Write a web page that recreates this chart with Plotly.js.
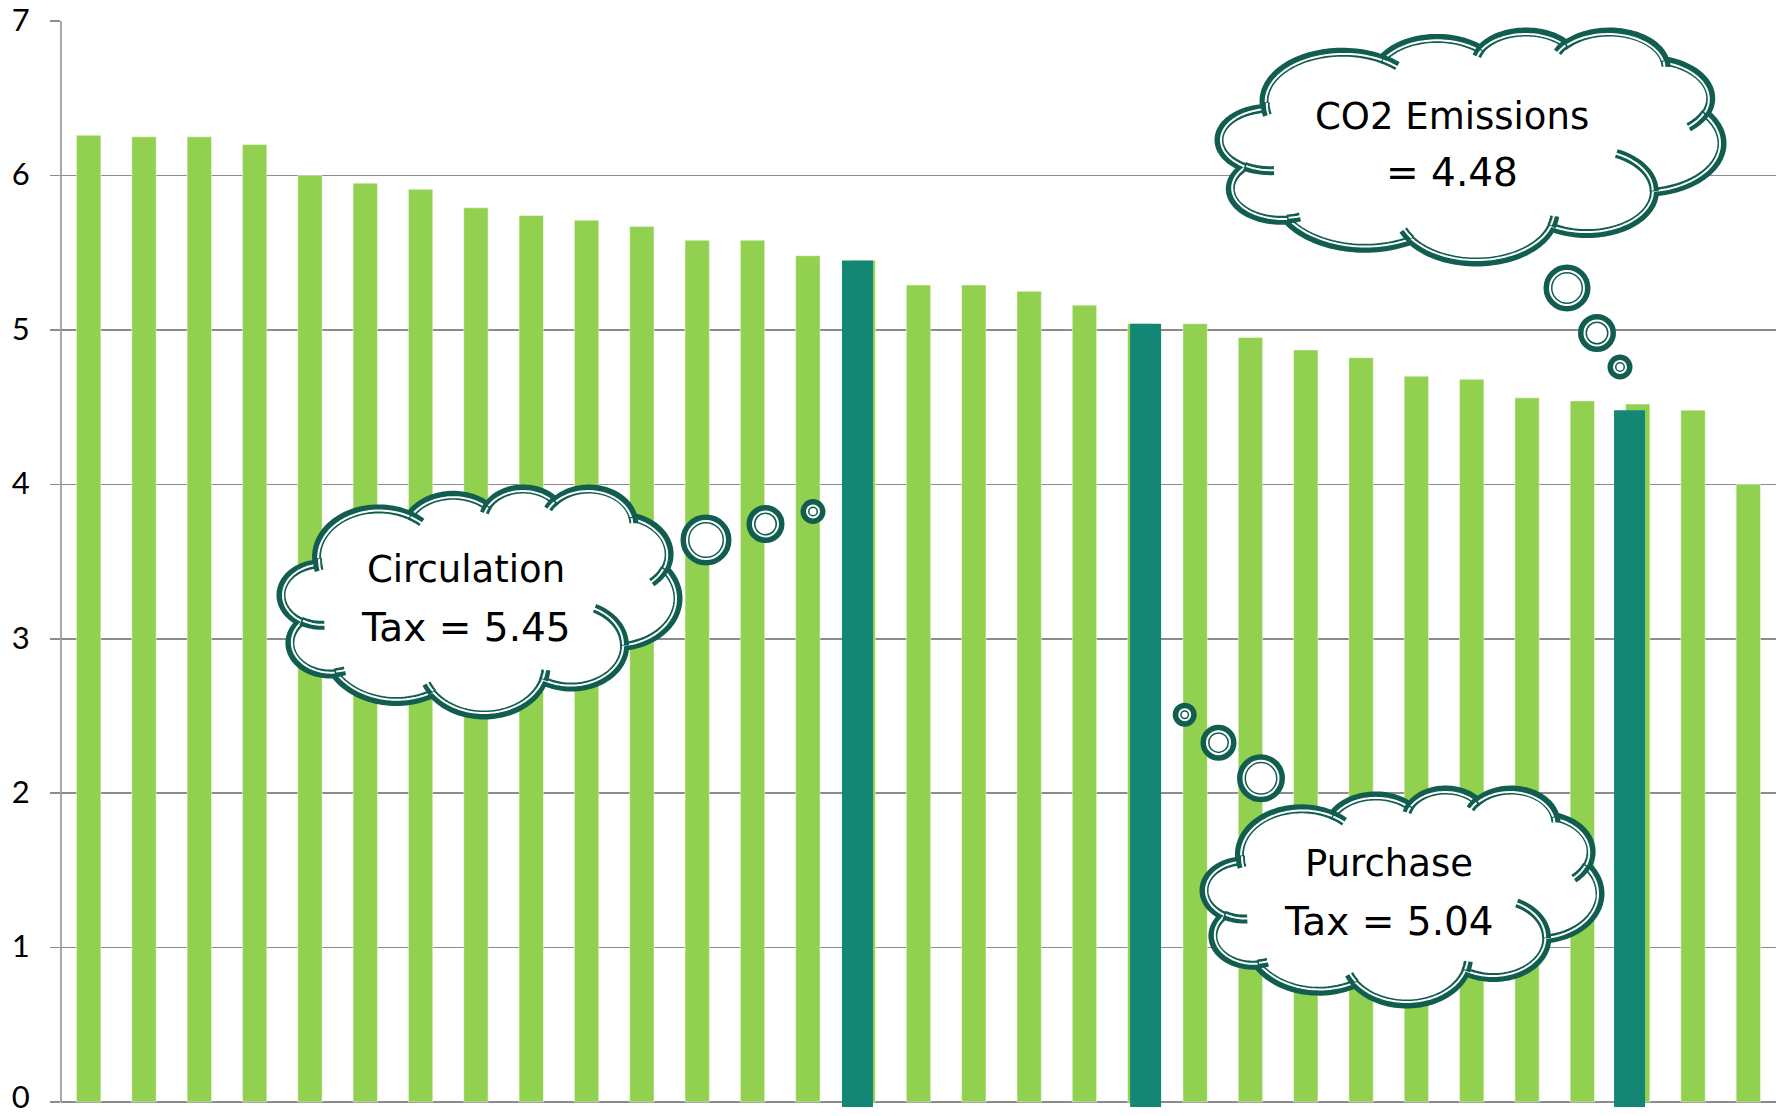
<!DOCTYPE html>
<html>
<head>
<meta charset="utf-8">
<script src="https://cdn.plot.ly/plotly-3.0.1.min.js"></script>
<style>
  html, body { margin: 0; padding: 0; background: #ffffff; }
  #chart { width: 1785px; height: 1116px; }
</style>
</head>
<body>
<div id="chart"></div>
<script>
// ---- data -------------------------------------------------------------
// Ranked scores, highest first
const score = [6.26, 6.25, 6.25, 6.20, 6.00, 5.95, 5.91, 5.79, 5.74, 5.71,
               5.67, 5.58, 5.58, 5.48, 5.45, 5.29, 5.29, 5.25, 5.16, 5.04,
               5.04, 4.95, 4.87, 4.82, 4.70, 4.68, 4.56, 4.54, 4.52, 4.48,
               4.00];
const rank = score.map((_, i) => i + 1);

// Highlighted positions and their stated values
const highlightRank  = [15, 20, 29];
const highlightValue = [5.45, 5.04, 4.48];
const calloutTitle   = ['Circulation', 'Purchase', 'CO2 Emissions'];
const calloutPrefix  = ['Tax = ', 'Tax = ', '= '];

// Value axis ticks
const yTicks = [0, 1, 2, 3, 4, 5, 6, 7];

// ---- styling ------------------------------------------------------------
const GREEN = '#92D050';
const TEAL = '#148674';
const INK = '#115E50';
const GRID = '#8c8c8c';
const TICK_FONT = 'Lato, "Open Sans", sans-serif';
const NOTE_FONT = '"DejaVu Sans", Lato, sans-serif';
const NOTE_SIZE = [37, 39];   // title line, value line

const W = 1785, H = 1116;
const M = { l: 61, r: 9, t: 21, b: 9 };
const PW = W - M.l - M.r, PH = H - M.t - M.b;
const Y_MIN = -0.032, Y_MAX = 7;

// page pixel -> paper fraction
const px = x => (x - M.l) / PW;
const py = y => (H - M.b - y) / PH;

// highlight bars sit slightly off-centre and run a few px below zero
const hlOffset = [-0.383, -0.175, -0.427];
const hlWidth = 0.56;

// outline: thick dark stroke with a thin white line set slightly inside it
const STROKE = 9, INNER = 2, INSET = 2;

// ---- cloud outline (preset cloud geometry, 43200 unit box) ------------
const CLOUD_START = [3900, 14370];
const CLOUD_ARCS = [
  [6753, 9190, -11429249, 7426832],
  [5333, 7267, -8646143, 5396714],
  [4365, 5945, -8748475, 5983381],
  [4857, 6595, -7859164, 7034504],
  [5333, 7273, -4722533, 6541615],
  [6775, 9220, -2776035, 7816140],
  [5785, 7867, 37501, 6842000],
  [6752, 9215, 1347096, 6910353],
  [7720, 10543, 3974558, 4542661],
  [4360, 5918, -16496525, 8804134],
  [4345, 5945, -14809710, 9151131]
];
const CLOUD_CREASES = [
  [4693, 26177, 4345, 5945, 5204520, 1585770],
  [6928, 34899, 4360, 5918, 4416628, 686848],
  [16478, 39090, 6752, 9215, 8257449, 844866],
  [28827, 34751, 6752, 9215, 387196, 959901],
  [34129, 22954, 5785, 7867, -4217541, 4255042],
  [41798, 15354, 5333, 7273, 1819082, 1665090],
  [38324, 5426, 4857, 6595, -824660, 891534],
  [29078, 3952, 4857, 6595, -8950887, 1091722],
  [22141, 4720, 4365, 5945, -9809656, 1061181],
  [14000, 5192, 6753, 9190, -4002417, 739161],
  [4127, 15789, 6753, 9190, 9722161, 1239189]
];

function arcTo(p, wR, hR, st, sw, out) {
  const a0 = st / 60000 * Math.PI / 180;
  const da = sw / 60000 * Math.PI / 180;
  const rAt = a => wR * hR / Math.hypot(hR * Math.cos(a), wR * Math.sin(a));
  const cx = p[0] - rAt(a0) * Math.cos(a0);
  const cy = p[1] - rAt(a0) * Math.sin(a0);
  const n = Math.max(6, Math.ceil(Math.abs(da) / (Math.PI / 90)));
  let last = p;
  for (let k = 1; k <= n; k++) {
    const a = a0 + da * k / n;
    const r = rAt(a);
    last = [cx + r * Math.cos(a), cy + r * Math.sin(a)];
    out.push(last);
  }
  return last;
}

function cloudGeometry() {
  const outline = [CLOUD_START.slice()];
  let p = CLOUD_START.slice();
  CLOUD_ARCS.forEach(a => { p = arcTo(p, a[0], a[1], a[2], a[3], outline); });
  const creases = CLOUD_CREASES.map(c => {
    const pts = [[c[0], c[1]]];
    arcTo([c[0], c[1]], c[2], c[3], c[4], c[5], pts);
    return pts;
  });
  const xs = outline.map(q => q[0]), ys = outline.map(q => q[1]);
  return { outline, creases,
           x0: Math.min(...xs), x1: Math.max(...xs),
           y0: Math.min(...ys), y1: Math.max(...ys) };
}
const CLOUD = cloudGeometry();

function toPath(pts, box, close) {
  const sx = (box[2] - box[0]) / (CLOUD.x1 - CLOUD.x0);
  const sy = (box[3] - box[1]) / (CLOUD.y1 - CLOUD.y0);
  const s = pts.map((q, i) => {
    const X = px(box[0] + (q[0] - CLOUD.x0) * sx);
    const Y = py(box[1] + (q[1] - CLOUD.y0) * sy);
    return (i ? 'L' : 'M') + X.toFixed(5) + ',' + Y.toFixed(5);
  }).join(' ');
  return close ? s + ' Z' : s;
}
const inset = (b, d) => [b[0] + d, b[1] + d, b[2] - d, b[3] - d];

// callout boxes [left, top, right, bottom] in page px, bubble trail [cx, cy, d]
const calloutBox = [
  [281, 489, 678, 715],
  [1204, 790, 1600, 1004],
  [1219, 32, 1722, 262]
];
const calloutTrail = [
  [[706, 540, 42], [765.5, 524, 29], [813, 511.5, 16]],
  [[1184.7, 714.7, 15], [1218.5, 742.7, 27], [1261, 778.3, 39]],
  [[1567, 288, 38], [1597, 333, 29], [1620, 367, 16]]
];
const calloutText = [
  [466, 569, 627],
  [1389, 863, 921],
  [1452, 116, 173]
];

const shapes = [{
  type: 'line', xref: 'paper', yref: 'y', x0: 0, x1: 0, y0: 0, y1: Y_MAX,
  line: { color: GRID, width: 1.5 }
}];

function doubleStroke(dark, light) {
  shapes.push(Object.assign({ xref: 'paper', yref: 'paper' }, dark,
                            { line: { color: INK, width: STROKE } }));
  shapes.push(Object.assign({ xref: 'paper', yref: 'paper' }, light,
                            { fillcolor: 'rgba(0,0,0,0)', line: { color: '#ffffff', width: INNER } }));
}

function circleAt(cx, cy, r) {
  return { type: 'circle', x0: px(cx - r), x1: px(cx + r), y0: py(cy + r), y1: py(cy - r) };
}

calloutBox.forEach((box, k) => {
  const inner = inset(box, INSET);
  doubleStroke(
    { type: 'path', path: toPath(CLOUD.outline, box, true), fillcolor: '#ffffff' },
    { type: 'path', path: toPath(CLOUD.outline, inner, true) });
  CLOUD.creases.forEach(c => {
    doubleStroke(
      { type: 'path', path: toPath(c, box, false), fillcolor: 'rgba(0,0,0,0)' },
      { type: 'path', path: toPath(c, inner, false) });
  });
  calloutTrail[k].forEach(t => {
    const r = t[2] / 2;
    doubleStroke(Object.assign(circleAt(t[0], t[1], r), { fillcolor: '#ffffff' }),
                 circleAt(t[0], t[1], Math.max(r - INSET, 1)));
  });
});

const annotations = [];
calloutText.forEach((t, k) => {
  const lines = [calloutTitle[k], calloutPrefix[k] + highlightValue[k].toFixed(2)];
  lines.forEach((txt, j) => {
    annotations.push({
      xref: 'paper', yref: 'paper', x: px(t[0]), y: py(t[1 + j]),
      xanchor: 'center', yanchor: 'middle', showarrow: false,
      text: txt, font: { family: NOTE_FONT, size: NOTE_SIZE[j], color: '#000000' }
    });
  });
});

const traces = [
  {
    type: 'bar', x: rank, y: score, width: 0.44,
    marker: { color: GREEN, line: { color: 'rgba(255,255,255,0.45)', width: 1 } },
    hoverinfo: 'skip'
  },
  {
    type: 'bar', x: highlightRank, y: highlightValue.map(v => v - Y_MIN), base: Y_MIN,
    width: hlWidth, offset: hlOffset,
    marker: { color: TEAL, line: { width: 0 } },
    hoverinfo: 'skip'
  },
  // empty trace so the bottom-label axis is laid out
  { type: 'scatter', x: [], y: [], yaxis: 'y2', hoverinfo: 'skip', showlegend: false }
];

const tickFont = { family: TICK_FONT, size: 31, color: '#000000' };
const bottomTick = yTicks[0];

const layout = {
  width: W, height: H,
  margin: { l: M.l, r: M.r, t: M.t, b: M.b, pad: 0 },
  paper_bgcolor: '#ffffff', plot_bgcolor: '#ffffff',
  barmode: 'overlay', showlegend: false,
  xaxis: { range: [0.5, score.length + 0.5], showticklabels: false, showgrid: false,
           zeroline: false, showline: false, ticks: '' },
  yaxis: { range: [Y_MIN, Y_MAX], tickvals: yTicks,
           ticktext: yTicks.map(v => (v === bottomTick ? '' : String(v))),
           ticks: 'outside', ticklen: 10, tickwidth: 1.5, tickcolor: GRID,
           showgrid: true, gridcolor: GRID, gridwidth: 1.5,
           zeroline: false, showline: false, ticklabelstandoff: 14,
           ticklabeloverflow: 'allow', ticklabelshift: -1,
           tickfont: tickFont },
  // bottom label sits a little higher so it stays clear of the page edge
  yaxis2: { overlaying: 'y', side: 'left', range: [Y_MIN, Y_MAX],
            tickvals: [bottomTick], ticktext: [String(bottomTick)],
            ticks: 'outside', ticklen: 10, tickcolor: 'rgba(0,0,0,0)',
            showgrid: false, zeroline: false, showline: false,
            ticklabelstandoff: 14, ticklabeloverflow: 'allow', ticklabelshift: -5,
            tickfont: tickFont },
  shapes, annotations
};

Plotly.newPlot('chart', traces, layout, { staticPlot: true, displayModeBar: false });
</script>
</body>
</html>
